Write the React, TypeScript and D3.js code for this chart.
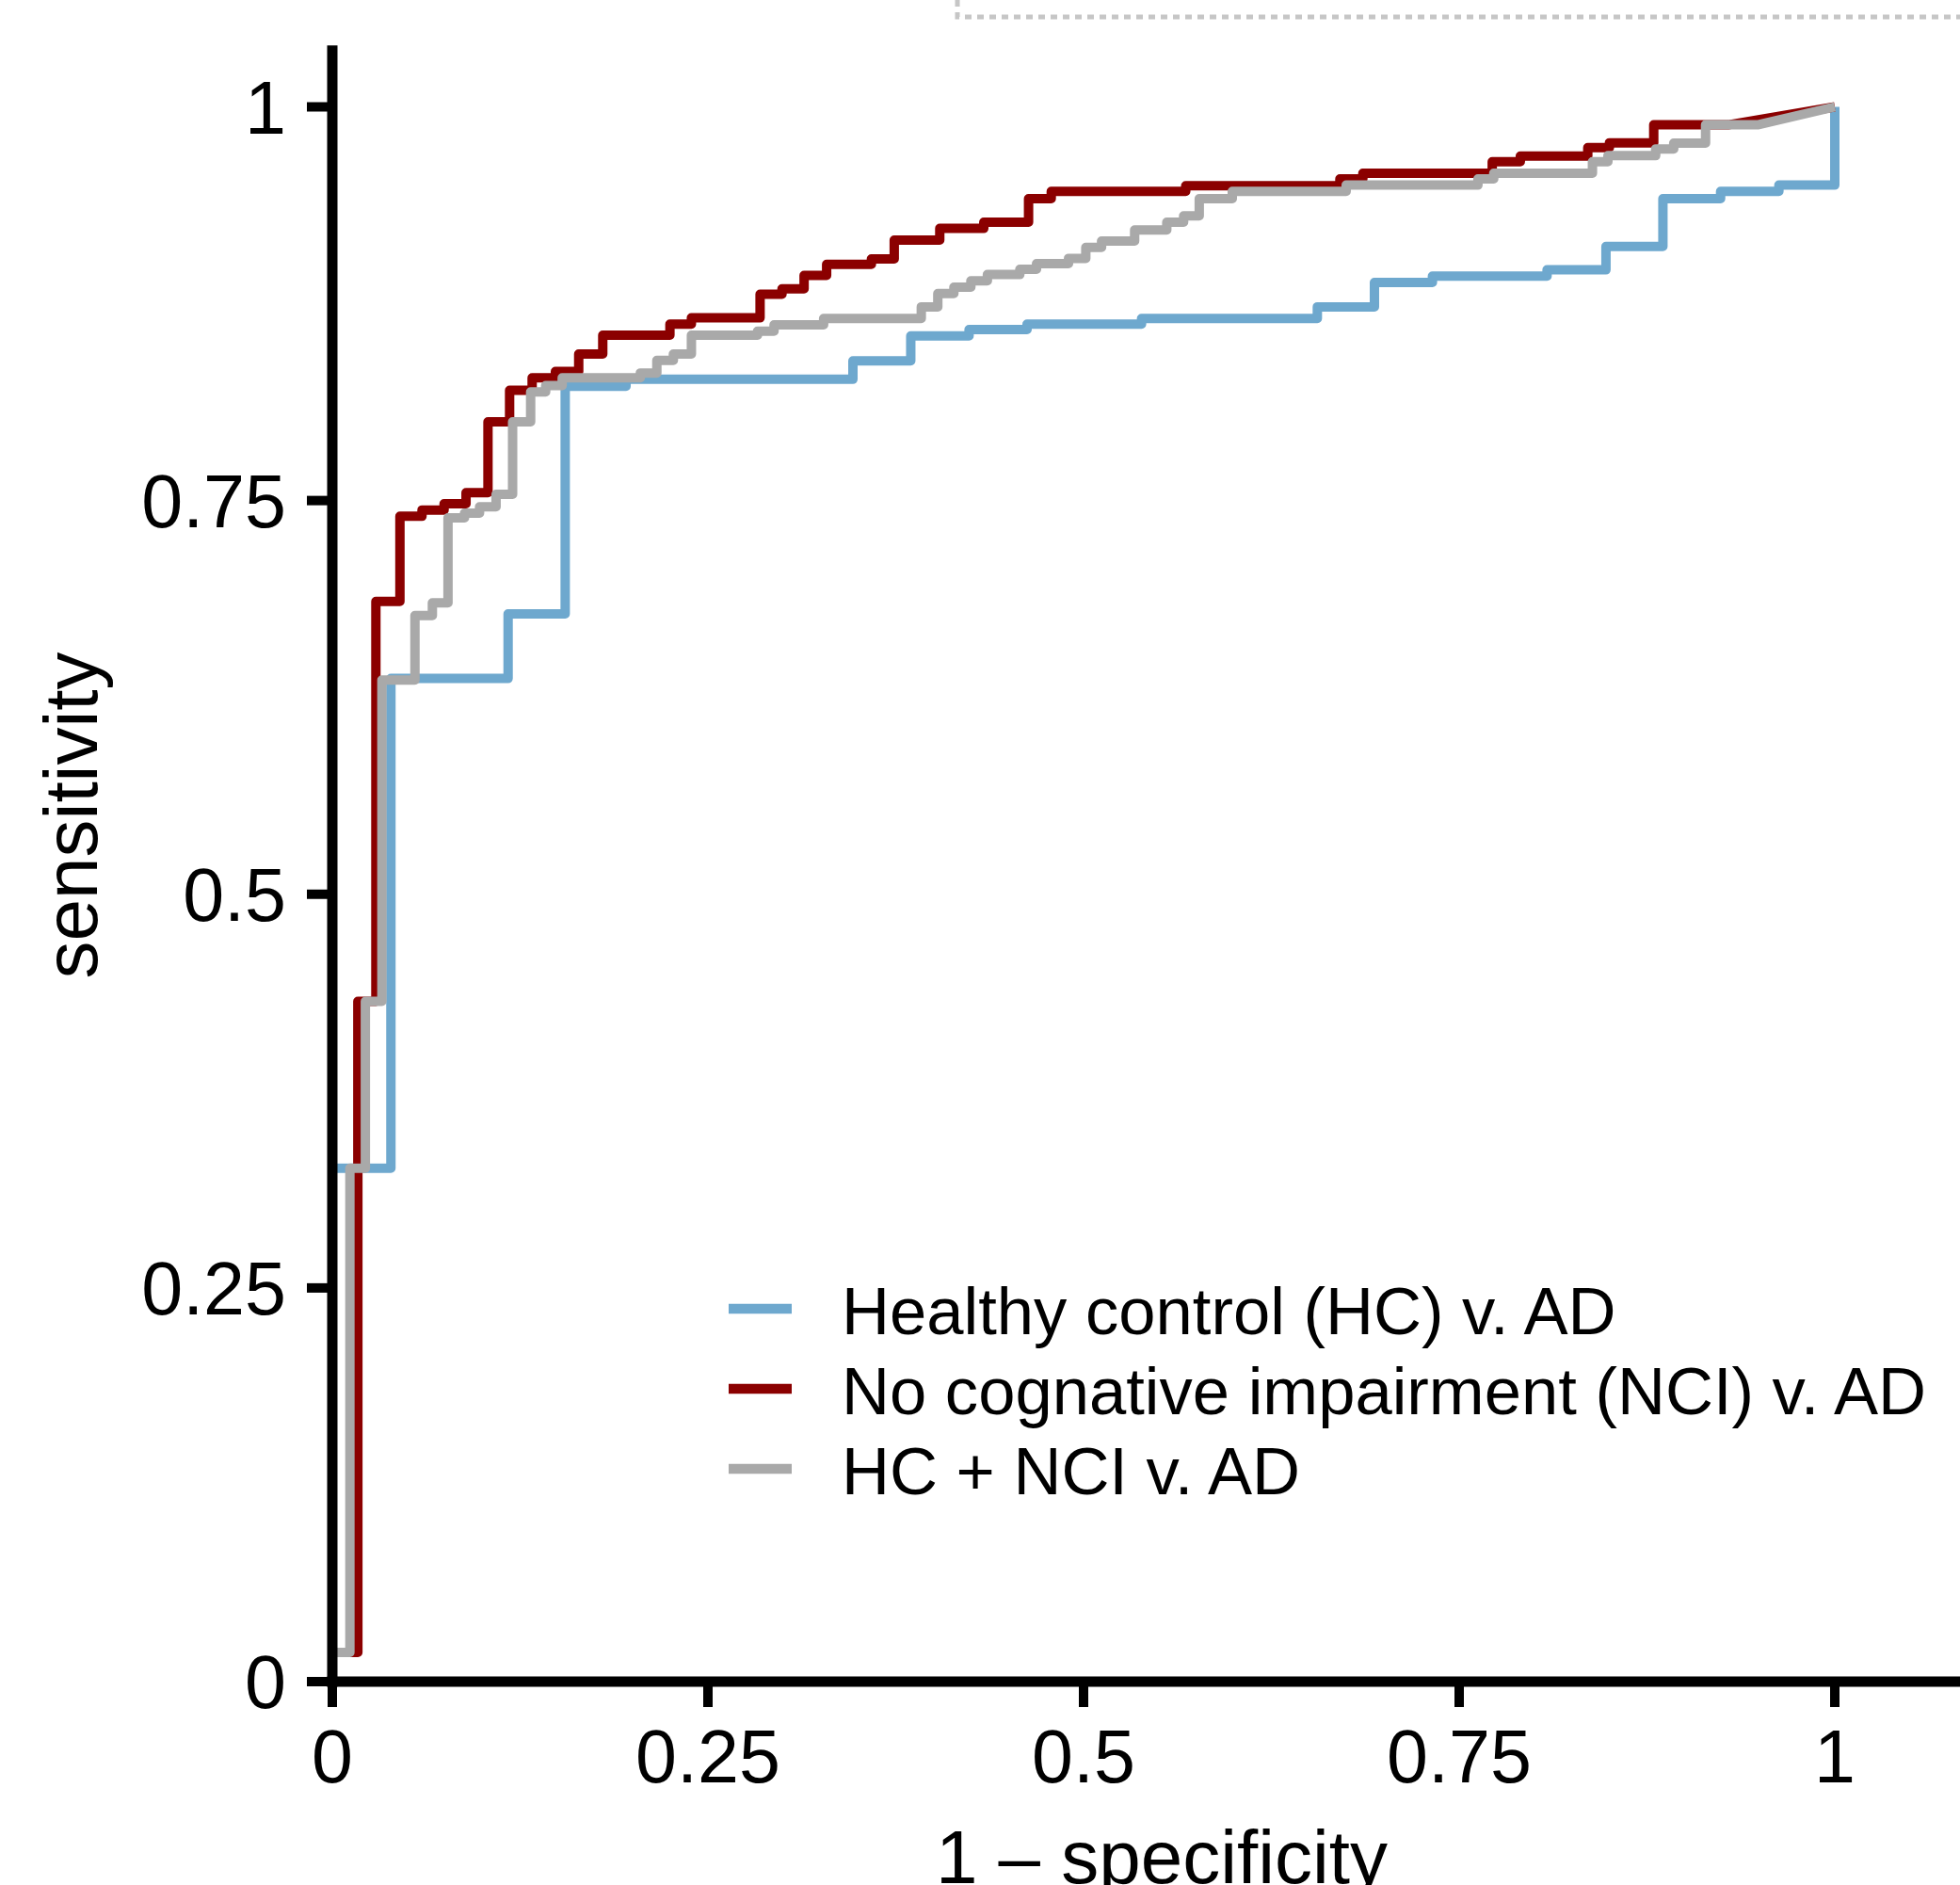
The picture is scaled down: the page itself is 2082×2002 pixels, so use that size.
import React, { useEffect, useRef } from "react"
import * as d3 from "d3"

// tick values / labels
const xTicks = [0, 0.25, 0.5, 0.75, 1]
const yTicks = [0, 0.25, 0.5, 0.75, 1]

const seriesNames = [
    "Healthy control (HC) v. AD",
    "No cognative impairment (NCI) v. AD",
    "HC + NCI v. AD",
]
const seriesColors = ["#6ea8ce", "#8b0000", "#a9a9a9"]

// ROC points, [1 - specificity, sensitivity]
const hcVsAd = [
    [0, 0], [0, 0.326], [0.039, 0.326], [0.039, 0.637], [0.117, 0.637], [0.117, 0.678],
    [0.155, 0.678], [0.155, 0.8226], [0.1955, 0.8226], [0.1955, 0.827], [0.3465, 0.827],
    [0.3465, 0.8387], [0.385, 0.8387], [0.385, 0.8546], [0.4238, 0.8546], [0.4238, 0.8586],
    [0.4624, 0.8586], [0.4624, 0.862], [0.5386, 0.862], [0.5386, 0.8656], [0.6556, 0.8656],
    [0.6556, 0.873], [0.6936, 0.873], [0.6936, 0.8885], [0.7322, 0.8885], [0.7322, 0.8925],
    [0.8085, 0.8925], [0.8085, 0.8965], [0.8477, 0.8965], [0.8477, 0.9114], [0.8856, 0.9114],
    [0.8856, 0.9417], [0.924, 0.9417], [0.924, 0.9463], [0.9628, 0.9463], [0.9628, 0.9503],
    [1, 0.9503], [1, 1],
]

const nciVsAd = [
    [0, 0.0185], [0.017, 0.0185], [0.017, 0.432], [0.029, 0.432], [0.029, 0.686], [0.045, 0.686],
    [0.045, 0.74], [0.0597, 0.74], [0.0597, 0.744], [0.0744, 0.744], [0.0744, 0.748],
    [0.089, 0.748], [0.089, 0.755], [0.1036, 0.755], [0.1036, 0.8], [0.118, 0.8], [0.118, 0.82],
    [0.133, 0.82], [0.133, 0.828], [0.1485, 0.828], [0.1485, 0.832], [0.164, 0.832],
    [0.164, 0.843], [0.18, 0.843], [0.18, 0.855], [0.2247, 0.855], [0.2247, 0.862],
    [0.239, 0.862], [0.239, 0.866], [0.2847, 0.866], [0.2847, 0.881], [0.2993, 0.881],
    [0.2993, 0.8845], [0.314, 0.8845], [0.314, 0.893], [0.329, 0.893], [0.329, 0.9],
    [0.3588, 0.9], [0.3588, 0.9034], [0.374, 0.9034], [0.374, 0.9154], [0.4043, 0.9154],
    [0.4043, 0.9228], [0.4336, 0.9228], [0.4336, 0.9268], [0.4634, 0.9268], [0.4634, 0.9417],
    [0.4785, 0.9417], [0.4785, 0.9463], [0.568, 0.9463], [0.568, 0.9499], [0.6706, 0.9499],
    [0.6706, 0.9543], [0.6859, 0.9543], [0.6859, 0.9578], [0.772, 0.9578], [0.772, 0.9652],
    [0.7907, 0.9652], [0.7907, 0.9687], [0.8356, 0.9687], [0.8356, 0.9741], [0.85, 0.9741],
    [0.85, 0.9772], [0.8795, 0.9772], [0.8795, 0.9886], [0.929, 0.9886], [1, 1],
]

const hcNciVsAd = [
    [0, 0.0185], [0.0117, 0.0185], [0.0117, 0.326], [0.022, 0.326], [0.022, 0.432],
    [0.033, 0.432], [0.033, 0.636], [0.055, 0.636], [0.055, 0.677], [0.0666, 0.677],
    [0.0666, 0.685], [0.077, 0.685], [0.077, 0.739], [0.088, 0.739], [0.088, 0.742],
    [0.098, 0.742], [0.098, 0.746], [0.109, 0.746], [0.109, 0.754], [0.12, 0.754], [0.12, 0.8],
    [0.132, 0.8], [0.132, 0.819], [0.142, 0.819], [0.142, 0.823], [0.153, 0.823], [0.153, 0.828],
    [0.205, 0.828], [0.205, 0.831], [0.216, 0.831], [0.216, 0.839], [0.227, 0.839],
    [0.227, 0.843], [0.239, 0.843], [0.239, 0.855], [0.283, 0.855], [0.283, 0.8576],
    [0.294, 0.8576], [0.294, 0.8616], [0.327, 0.8616], [0.327, 0.8656], [0.392, 0.8656],
    [0.392, 0.873], [0.403, 0.873], [0.403, 0.8815], [0.4137, 0.8815], [0.4137, 0.8855],
    [0.425, 0.8855], [0.425, 0.8895], [0.436, 0.8895], [0.436, 0.8935], [0.4576, 0.8935],
    [0.4576, 0.8969], [0.4687, 0.8969], [0.4687, 0.9004], [0.49, 0.9004], [0.49, 0.9038],
    [0.5015, 0.9038], [0.5015, 0.9108], [0.512, 0.9108], [0.512, 0.9148], [0.534, 0.9148],
    [0.534, 0.9218], [0.5554, 0.9218], [0.5554, 0.9268], [0.5666, 0.9268], [0.5666, 0.9308],
    [0.577, 0.9308], [0.577, 0.9417], [0.599, 0.9417], [0.599, 0.9463], [0.6748, 0.9463],
    [0.6748, 0.9503], [0.7625, 0.9503], [0.7625, 0.9543], [0.773, 0.9543], [0.773, 0.9578],
    [0.8387, 0.9578], [0.8387, 0.9652], [0.849, 0.9652], [0.849, 0.969], [0.8808, 0.969],
    [0.8808, 0.9733], [0.8928, 0.9733], [0.8928, 0.977], [0.914, 0.977], [0.914, 0.9886],
    [0.9486, 0.9886], [1, 1],
]

const allSeries = [hcVsAd, nciVsAd, hcNciVsAd]

const W = 2082
const H = 2002
const FONT = "'Liberation Sans', Arial, Helvetica, sans-serif"

function App() {
    const svgRef = useRef(null)

    useEffect(() => {
        document.body.style.margin = "0"
        const svg = d3.select(svgRef.current)
        svg.selectAll("*").remove()

        const xScale = d3.scaleLinear().domain([0, 1]).range([353, 1949])
        const yScale = d3.scaleLinear().domain([0, 1]).range([1786, 113.5])

        // dotted frame of a neighbouring panel, cropped at the top
        svg.append("path")
            .attr("d", `M1017,0 L1017,18 L${W},18`)
            .attr("fill", "none")
            .attr("stroke", "#c6c6c6")
            .attr("stroke-width", 5)
            .attr("stroke-dasharray", "7 6")

        const line = d3.line()
            .x((d) => xScale(d[0]))
            .y((d) => yScale(d[1]))

        allSeries.forEach((s, i) => {
            svg.append("path")
                .attr("d", line(s))
                .attr("fill", "none")
                .attr("stroke", seriesColors[i])
                .attr("stroke-width", 10)
                .attr("stroke-linejoin", "round")
                .attr("stroke-linecap", "butt")
        })

        // axis lines
        svg.append("line")
            .attr("x1", xScale(0)).attr("x2", xScale(0))
            .attr("y1", yScale(1.039)).attr("y2", yScale(0) + 5.5)
            .attr("stroke", "black").attr("stroke-width", 11)
        svg.append("line")
            .attr("x1", xScale(0) - 5.5).attr("x2", W)
            .attr("y1", yScale(0)).attr("y2", yScale(0))
            .attr("stroke", "black").attr("stroke-width", 11)

        const tickLen = 27
        const fmt = (v) => String(v)

        // y ticks
        const yAxis = svg.append("g")
        yAxis.selectAll("line").data(yTicks).enter().append("line")
            .attr("x1", xScale(0) - tickLen).attr("x2", xScale(0))
            .attr("y1", (d) => yScale(d)).attr("y2", (d) => yScale(d))
            .attr("stroke", "black").attr("stroke-width", 10)
        yAxis.selectAll("text").data(yTicks).enter().append("text")
            .attr("x", 304)
            .attr("y", (d) => yScale(d) + 28)
            .attr("text-anchor", "end")
            .attr("font-family", FONT)
            .attr("font-size", 79)
            .text(fmt)

        // x ticks
        const xAxis = svg.append("g")
        xAxis.selectAll("line").data(xTicks).enter().append("line")
            .attr("x1", (d) => xScale(d)).attr("x2", (d) => xScale(d))
            .attr("y1", yScale(0)).attr("y2", yScale(0) + tickLen)
            .attr("stroke", "black").attr("stroke-width", 10)
        xAxis.selectAll("text").data(xTicks).enter().append("text")
            .attr("x", (d) => xScale(d))
            .attr("y", 1893)
            .attr("text-anchor", "middle")
            .attr("font-family", FONT)
            .attr("font-size", 79)
            .text(fmt)

        // axis titles
        svg.append("text")
            .attr("x", 1234).attr("y", 2000)
            .attr("text-anchor", "middle")
            .attr("font-family", FONT)
            .attr("font-size", 80)
            .text("1 \u2013 specificity")
        svg.append("text")
            .attr("transform", "translate(103,866) rotate(-90)")
            .attr("text-anchor", "middle")
            .attr("font-family", FONT)
            .attr("font-size", 80)
            .text("sensitivity")

        // legend
        const legend = svg.append("g")
        seriesNames.forEach((name, i) => {
            const ly = 1390 + i * 85
            legend.append("line")
                .attr("x1", 774).attr("x2", 841)
                .attr("y1", ly).attr("y2", ly)
                .attr("stroke", seriesColors[i]).attr("stroke-width", 10.5)
            legend.append("text")
                .attr("x", 894).attr("y", ly + 27)
                .attr("font-family", FONT)
                .attr("font-size", 70.6)
                .text(name)
        })
    }, [])

    return (
        <svg ref={svgRef} width={W} height={H}
             style={{ position: "absolute", left: 0, top: 0, background: "white" }} />
    )
}

export default App
